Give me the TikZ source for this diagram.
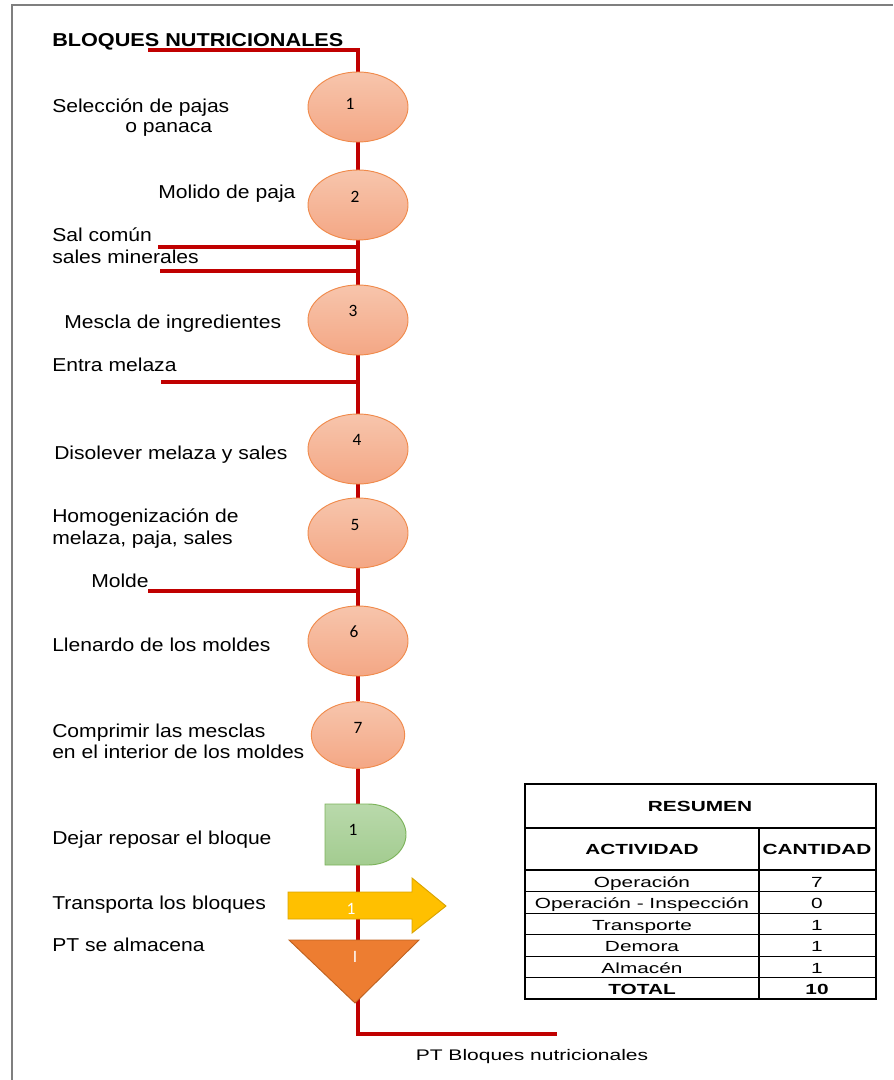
\documentclass[tikz,border=0pt]{standalone}
\usepackage{fontspec}
\setmainfont{Liberation Sans}
\newfontfamily\lblfont[FakeStretch=1.13]{Liberation Sans}
\newfontfamily\ttlfont[FakeStretch=1.16]{Liberation Sans}
\newfontfamily\tabfont[FakeStretch=1.42]{Liberation Sans}
\newfontfamily\endfont[FakeStretch=1.37]{Liberation Sans}
\newfontfamily\numfont{Carlito}
\usetikzlibrary{shapes.geometric,backgrounds}

\definecolor{flowred}{HTML}{C00000}
\definecolor{framegray}{HTML}{7F7F7F}
\definecolor{optop}{HTML}{F7C5AC}
\definecolor{opbot}{HTML}{F4A785}
\definecolor{opline}{HTML}{F08A4B}
\definecolor{demtop}{HTML}{B9D9AB}
\definecolor{dembot}{HTML}{A3CC90}
\definecolor{demline}{HTML}{7CB35A}
\definecolor{trafill}{HTML}{FFC000}
\definecolor{traline}{HTML}{D9A300}
\definecolor{almfill}{HTML}{ED7D31}
\definecolor{almline}{HTML}{C0621F}

\begin{document}
\begin{tikzpicture}[x=0.75pt,y=-0.75pt,
  flow/.style={draw=flowred, line width=2.6pt},
  op/.style={ellipse, draw=opline, line width=0.7pt, top color=optop, bottom color=opbot,
    minimum width=75pt, minimum height=52.5pt, inner sep=0pt},
  num/.style={font=\numfont\fontsize{13}{15}\selectfont, inner sep=0pt},
  lbl/.style={anchor=base west, font=\lblfont\fontsize{14}{17}\selectfont, inner sep=0pt},
  cell/.style={anchor=base, font=\tabfont\fontsize{11}{13}\selectfont, inner sep=0pt},
  head/.style={cell, font=\tabfont\fontsize{11}{13}\selectfont\bfseries}]
  \useasboundingbox (0,0) rectangle (893,1080);

  % page frame
  \draw[framegray, line width=1.5pt] (12,1080) -- (12,5) -- (893,5);

  % title
  \node[lbl, font=\ttlfont\fontsize{14}{17}\selectfont\bfseries] (title) at (52,47) {BLOQUES NUTRICIONALES};

  % operations
  \node[op] (o1) at (358,107) {};
  \node[op] (o2) at (358,205) {};
  \node[op] (o3) at (358,320) {};
  \node[op] (o4) at (358,449) {};
  \node[op] (o5) at (358,533) {};
  \node[op] (o6) at (358,641) {};
  \node[op, minimum width=70pt, minimum height=50pt] (o7) at (358,735) {};
  \node[num] (n1) at (350,104) {1};
  \node[num] (n2) at (355,197) {2};
  \node[num] (n3) at (353,311) {3};
  \node[num] (n4) at (357,440) {4};
  \node[num] (n5) at (355,525) {5};
  \node[num] (n6) at (354,632) {6};
  \node[num] (n7) at (358,728) {7};

  % demora, transporte, almacen
  \draw[demline, line width=0.7pt, top color=demtop, bottom color=dembot]
    (325,804) -- (368,804) arc[start angle=-90, end angle=90, x radius=38, y radius=30.5] -- (325,865) -- cycle;
  \node[num] (nd) at (353,830) {1};
  \draw[traline, line width=0.7pt, fill=trafill]
    (288,892) -- (412,892) -- (412,878) -- (446,906) -- (412,933) -- (412,919) -- (288,919) -- cycle;
  \node[num, text=white] (nt) at (351,909) {1};
  \draw[almline, line width=0.7pt, fill=almfill] (289,940) -- (419,940) -- (355,1003) -- cycle;
  \node[num, text=white] (na) at (355,957) {I};

  % labels
  \node[lbl] (l1a) at (52,113) {Selección de pajas};
  \node[lbl] (l1b) at (125,133) {o panaca};
  \node[lbl] (l2) at (158,199) {Molido de paja};
  \node[lbl] (lsal) at (52,242) {Sal común};
  \node[lbl] (lmin) at (52,264) {sales minerales};
  \node[lbl] (l3) at (64,328) {Mescla de ingredientes};
  \node[lbl] (lmel) at (52,371) {Entra melaza};
  \node[lbl] (l4) at (54,459) {Disolever melaza y sales};
  \node[lbl] (l5a) at (52,522) {Homogenización de};
  \node[lbl] (l5b) at (52,544) {melaza, paja, sales};
  \node[lbl] (lmol) at (91,587) {Molde};
  \node[lbl] (l6) at (52,651) {Llenardo de los moldes};
  \node[lbl] (l7a) at (52,737) {Comprimir las mesclas};
  \node[lbl] (l7b) at (52,758) {en el interior de los moldes};
  \node[lbl] (ld) at (52,844) {Dejar reposar el bloque};
  \node[lbl] (lt) at (52,909) {Transporta los bloques};
  \node[lbl] (la) at (52,951) {PT se almacena};
  \node[anchor=base, font=\endfont\fontsize{11.5}{14}\selectfont, inner sep=0pt] (pt) at (532,1060) {PT Bloques nutricionales};

  % main line and inputs
  \coordinate (t0) at (148,50);
  \coordinate (e1) at (358,1034);
  \coordinate (e2) at (557,1034);
  \coordinate (sal) at (158,247);
  \coordinate (min) at (160,271);
  \coordinate (mel) at (161,382);
  \coordinate (mol) at (148,591);
  \begin{scope}[on background layer]
    \draw[flow] (t0) -| (o1) -- (o2) -- (o3) -- (o4) -- (o5) -- (o6) -- (o7) -- (e1) -- (e2);
    \draw[flow] (sal) -- (sal -| o1);
    \draw[flow] (min) -- (min -| o1);
    \draw[flow] (mel) -- (mel -| o1);
    \draw[flow] (mol) -- (mol -| o1);
  \end{scope}

  % summary table
  \draw[line width=1.2pt] (525,784) rectangle (876,999);
  \draw[line width=0.8pt] (525,828) -- (876,828);
  \draw[line width=0.8pt] (525,870) -- (876,870);
  \draw[line width=0.5pt] (525,891.5) -- (876,891.5) (525,913) -- (876,913)
    (525,934.5) -- (876,934.5) (525,956) -- (876,956);
  \draw[line width=1.2pt] (525,977.5) -- (876,977.5);
  \draw[line width=0.8pt] (759,828) -- (759,999);
  \node[head] (res) at (700,811) {RESUMEN};
  \node[head] (act) at (642,854) {ACTIVIDAD};
  \node[head] (can) at (817,854) {CANTIDAD};
  \foreach \y/\a/\c [count=\i] in {887/Operación/7, 908/Operación - Inspección/0,
      930/Transporte/1, 951/Demora/1, 973/Almacén/1} {
    \node[cell] (act\i) at (642,\y) {\a};
    \node[cell] (can\i) at (817,\y) {\c};
  }
  \node[head] (tot) at (642,994) {TOTAL};
  \node[head] (tot2) at (817,994) {10};
\end{tikzpicture}
\end{document}
